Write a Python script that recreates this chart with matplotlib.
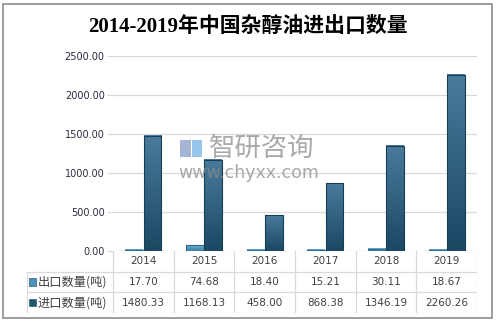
import matplotlib
matplotlib.use("Agg")
import matplotlib.pyplot as plt
import numpy as np
from matplotlib.colors import LinearSegmentedColormap
from matplotlib.patches import Rectangle

years = ["2014", "2015", "2016", "2017", "2018", "2019"]
export_qty = [17.70, 74.68, 18.40, 15.21, 30.11, 18.67]
import_qty = [1480.33, 1168.13, 458.00, 868.38, 1346.19, 2260.26]
series_names = ["出口数量(吨)", "进口数量(吨)"]
yticks = [0, 500, 1000, 1500, 2000, 2500]
title = "2014-2019年中国杂醇油进出口数量"

W, H = 496, 323
CJK = ["Noto Sans CJK SC", "DejaVu Sans"]
TXT = "#404040"
GRID = "#d9d9d9"

fig = plt.figure(figsize=(W / 100, H / 100), dpi=100)
fig.patches.append(Rectangle((3 / W, 5 / H), 489 / W, 314 / H, transform=fig.transFigure,
                             fill=False, edgecolor="#8c8c8c", linewidth=1.2))

fig.text(248 / W, 1 - 27 / H, title, ha="center", va="center", fontsize=15,
         fontweight="bold", family=["Liberation Serif", "Noto Sans CJK SC"], color="black")

# main plot area
ax = fig.add_axes([113 / W, 1 - 251 / H, 364 / W, 195 / H])
for s in ax.spines.values():
    s.set_visible(False)
ax.set_yticks(yticks)
ax.set_yticklabels([f"{v:.2f}" for v in yticks], fontsize=7, color="#2a2a40")
ax.tick_params(axis="y", length=4, color=GRID, pad=2)
ax.set_xticks([])
ax.grid(axis="y", color=GRID, linewidth=0.9)
ax.set_axisbelow(True)

cm_exp = LinearSegmentedColormap.from_list("e", ["#3b7ea4", "#6fb0d2"])
cm_imp = LinearSegmentedColormap.from_list("i", ["#1b4863", "#4a7b9c"])
bw = 0.29
grad = np.linspace(0, 1, 64).reshape(-1, 1)
x = np.arange(len(years))
for vals, off, cm, ec in [(export_qty, -bw / 2 - 0.005, cm_exp, "#2e6a8e"),
                          (import_qty, bw / 2 + 0.005, cm_imp, "#173e56")]:
    bars = ax.bar(x + off, vals, width=bw, color="none", edgecolor=ec, linewidth=0.8, zorder=3)
    for b in bars:
        ax.imshow(grad, extent=[b.get_x(), b.get_x() + b.get_width(), 0, b.get_height()],
                  origin="lower", aspect="auto", cmap=cm, zorder=2.5)
ax.set_xlim(-0.5, len(years) - 0.5)
ax.set_ylim(0, 2500)

# watermark
fig.text(262 / W, 1 - 148 / H, "智研咨询", fontsize=19, color="#8c8c8c", ha="center",
         va="center", family=CJK, alpha=0.75)
fig.text(249 / W, 1 - 173 / H, "www.chyxx.com", fontsize=12.5, color="#8c8c8c", ha="center",
         va="center", alpha=0.75)
fig.patches.append(Rectangle((180 / W, 1 - 157 / H), 11 / W, 17 / H, transform=fig.transFigure,
                             facecolor="#8ea3cc", alpha=0.8, edgecolor="none"))
fig.patches.append(Rectangle((192 / W, 1 - 157 / H), 10 / W, 17 / H, transform=fig.transFigure,
                             facecolor="#7fb8e6", alpha=0.8, edgecolor="none"))

# data table
lab_w = 86 / 60.67
tax = fig.add_axes([27 / W, 1 - 313 / H, 450 / W, 62 / H])
tax.set_xlim(-0.5 - lab_w, len(years) - 0.5)
tax.set_ylim(0, 3)
tax.axis("off")
xl = -0.5 - lab_w
for k in range(len(years) + 1):
    tax.plot([k - 0.5, k - 0.5], [0, 3], color=GRID, lw=0.9)
tax.plot([xl, xl], [0, 2], color=GRID, lw=0.9)
for yy in [0, 1, 2]:
    tax.plot([xl, len(years) - 0.5], [yy, yy], color=GRID, lw=0.9)
for i, yr in enumerate(years):
    tax.text(i, 2.5, yr, ha="center", va="center", fontsize=7.5, color=TXT)
    tax.text(i, 1.5, f"{export_qty[i]:.2f}", ha="center", va="center", fontsize=7.5, color=TXT)
    tax.text(i, 0.5, f"{import_qty[i]:.2f}", ha="center", va="center", fontsize=7.5, color=TXT)
for row, name, col in [(1.5, series_names[0], "#4f93b8"), (0.5, series_names[1], "#245570")]:
    tax.add_patch(Rectangle((xl + 0.04, row - 0.17), 0.11, 0.34, facecolor=col,
                            edgecolor="#2a5f80", lw=0.5))
    tax.text(xl + 0.17, row, name, ha="left", va="center", fontsize=8.8, color=TXT, family=CJK)

fig.savefig("out.png", dpi=100)
